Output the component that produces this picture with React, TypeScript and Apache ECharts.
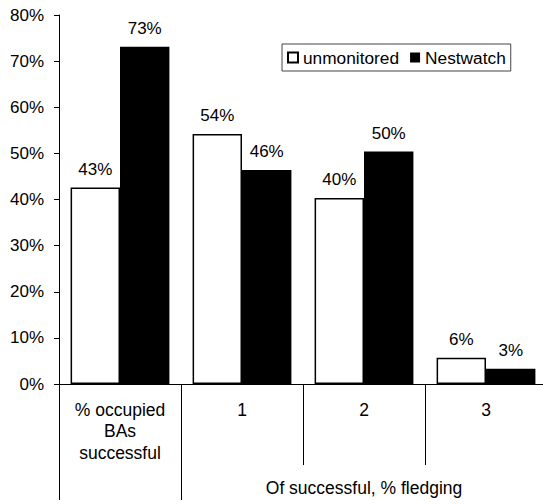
import React, { useEffect, useRef } from "react";
import * as echarts from "echarts";

// Categories along the x axis
const categories: string[] = ["% occupied\nBAs\nsuccessful", "1", "2", "3"];
// Percent values per series
const unmonitored: number[] = [42.6, 54.2, 40.3, 5.7];
const nestwatch: number[] = [73.1, 46.4, 50.4, 3.3];
// Group caption under the fledging categories
const groupLabel = "Of successful, % fledging";
const seriesNames: string[] = ["unmonitored", "Nestwatch"];

const FONT = "'Liberation Sans', Arial, sans-serif";

export default function App() {
  const ref = useRef<HTMLDivElement>(null);

  useEffect(() => {
    if (!ref.current) return;
    const chart = echarts.init(ref.current, null, { renderer: "svg" });
    const fmt = (p: any) => Math.round(p.value) + "%";
    const labelStyle = {
      show: true,
      position: "top" as const,
      distance: 10,
      formatter: fmt,
      fontSize: 17,
      color: "#000",
      fontFamily: FONT,
    };
    chart.setOption({
      animation: false,
      backgroundColor: "#fff",
      textStyle: { fontFamily: FONT, color: "#000" },
      grid: {
        left: 59,
        top: 15,
        right: -4,
        bottom: 120,
        containLabel: false,
        outerBoundsMode: "none",
      },
      legend: {
        data: seriesNames,
        left: 282,
        top: 44,
        orient: "horizontal",
        padding: [5, 5, 5, 5],
        itemGap: 11,
        itemWidth: 10,
        itemHeight: 10,
        icon: "rect",
        borderColor: "#444",
        borderWidth: 1,
        textStyle: { fontSize: 17.3, color: "#000", fontFamily: FONT },
      },
      xAxis: [
        {
          type: "category",
          data: categories,
          position: "bottom",
          axisLine: { show: true, lineStyle: { color: "#000", width: 1 } },
          axisTick: { show: true, length: 81, lineStyle: { color: "#000" } },
          axisLabel: {
            interval: 0,
            margin: 15,
            fontSize: 17.5,
            lineHeight: 21.5,
            color: "#000",
            fontFamily: FONT,
          },
          splitLine: { show: false },
        },
        {
          type: "value",
          min: 0,
          max: 4,
          position: "bottom",
          axisLine: { show: false },
          splitLine: { show: false },
          axisTick: {
            show: true,
            length: 116,
            customValues: [0, 1, 4],
            lineStyle: { color: "#000" },
          },
          axisLabel: {
            show: true,
            customValues: [2.5],
            formatter: () => groupLabel,
            margin: 95,
            fontSize: 17.5,
            color: "#000",
            fontFamily: FONT,
          },
        },
      ],
      yAxis: {
        type: "value",
        min: 0,
        max: 80,
        interval: 10,
        axisLine: { show: true, lineStyle: { color: "#000", width: 1 } },
        axisTick: { show: true, length: 5, lineStyle: { color: "#000" } },
        axisLabel: {
          formatter: "{value}%",
          margin: 15,
          fontSize: 17,
          color: "#000",
          fontFamily: FONT,
        },
        splitLine: { show: false },
      },
      series: [
        {
          name: seriesNames[0],
          type: "bar",
          xAxisIndex: 0,
          data: unmonitored,
          barGap: "0%",
          barCategoryGap: "19%",
          itemStyle: { color: "#fff", borderColor: "#000", borderWidth: 1.5 },
          label: labelStyle,
        },
        {
          name: seriesNames[1],
          type: "bar",
          xAxisIndex: 0,
          data: nestwatch,
          barGap: "0%",
          barCategoryGap: "19%",
          itemStyle: { color: "#000" },
          label: labelStyle,
        },
      ],
    });
    return () => chart.dispose();
  }, []);

  return (
    <div
      ref={ref}
      style={{ position: "fixed", left: 0, top: 0, width: 543, height: 504 }}
    />
  );
}
